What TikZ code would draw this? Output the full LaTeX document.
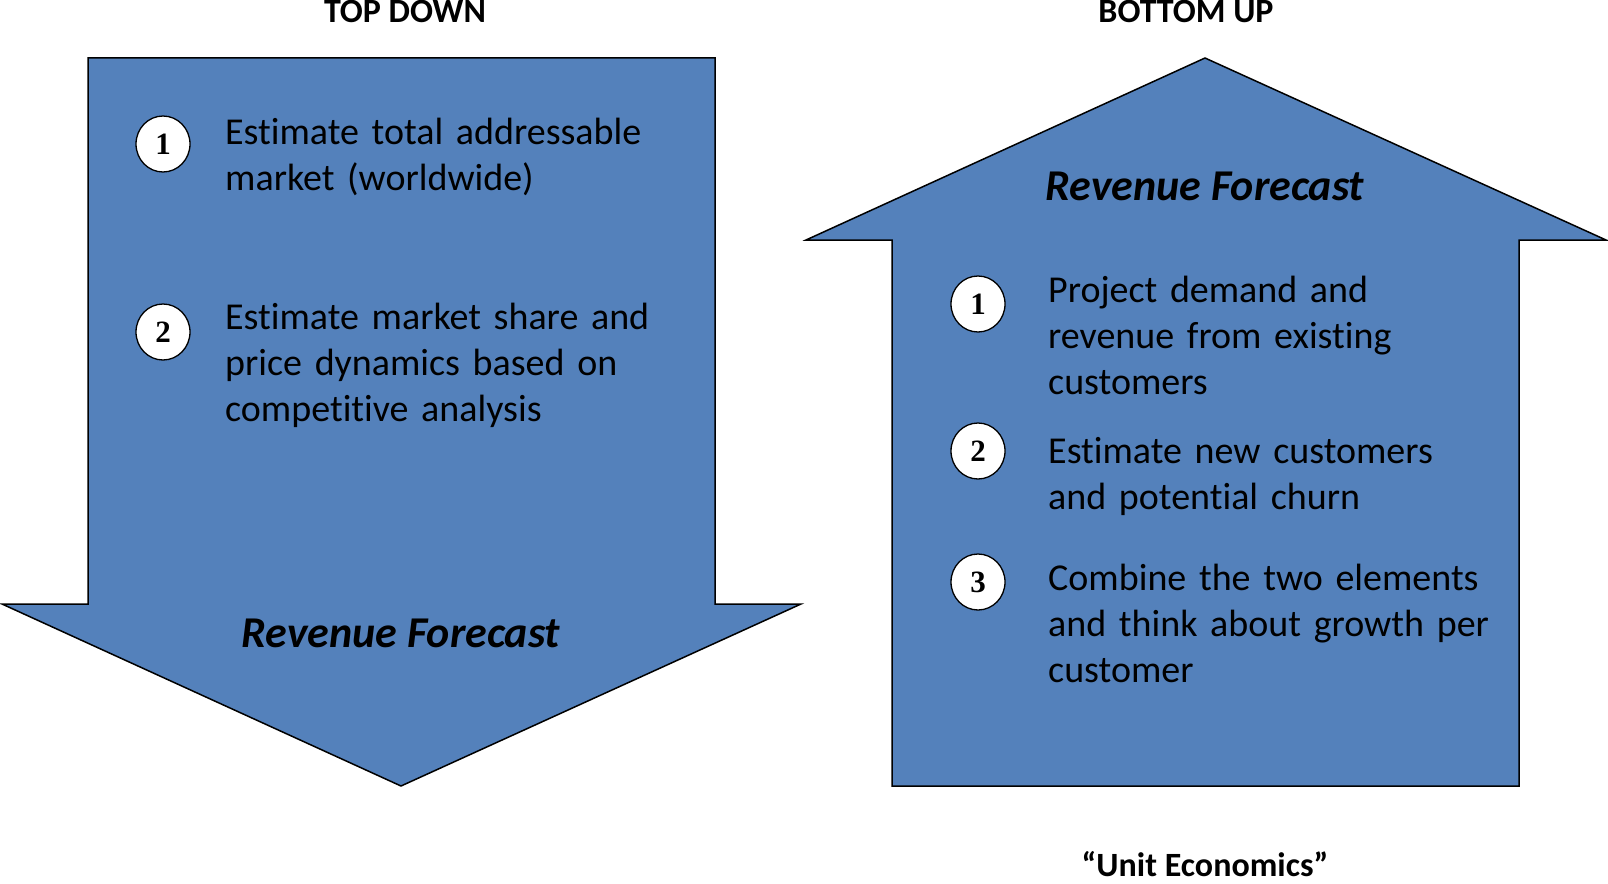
\documentclass[tikz,border=0pt]{standalone}
\usepackage{fontspec}
\setmainfont[Ligatures=NoCommon]{Carlito}
\newfontfamily\numfont{Liberation Serif}
\usetikzlibrary{shapes.geometric}
\definecolor{arrowblue}{RGB}{84,129,187}

\begin{document}
\begin{tikzpicture}[x=1pt, y=-1pt]

\tikzstyle{ARROW} = [draw=black, line width=1.5pt, fill=arrowblue, line join=miter]
\tikzstyle{NUM} = [ellipse, draw=black, line width=1.3pt, fill=white, minimum width=54pt, minimum height=56pt, inner sep=0pt, font=\numfont\bfseries\fontsize{31}{31}\selectfont]
\tikzstyle{TASK} = [anchor=base west, inner sep=0pt, text width=480pt, align=left, font=\fontsize{38}{46}\selectfont]
\tikzstyle{HEAD} = [anchor=base, inner sep=0pt, font=\bfseries\fontsize{34}{34}\selectfont]
\tikzstyle{RESULT} = [anchor=base, inner sep=0pt, font=\bfseries\itshape\fontsize{44}{44}\selectfont]

\useasboundingbox (0,0) rectangle (1608,883);

% top down arrow
\draw[ARROW] (88,58) -- (715,58) -- (715,604) -- (801,604) -- (401,786) -- (2,604) -- (88,604) -- cycle;
% bottom up arrow
\draw[ARROW] (1205,58) -- (1606,240) -- (1519,240) -- (1519,786) -- (892,786) -- (892,240) -- (806,240) -- cycle;

\node (topdown) [HEAD] at (405,23) {TOP DOWN};
\node (bottomup) [HEAD] at (1186,23) {BOTTOM UP};
\node (unitecon) [HEAD] at (1205,876) {“Unit Economics”};

\node (tdres) [RESULT] at (401,647) {Revenue Forecast};
\node (bures) [RESULT] at (1205,200) {Revenue Forecast};

\node (tdc1) [NUM] at (163,144) {1};
\node (tdc2) [NUM] at (163,332) {2};
\node (td1) [TASK] at (225,144) {Estimate total addressable\\market (worldwide)};
\node (td2) [TASK] at (225,329) {Estimate market share and\\price dynamics based on\\competitive analysis};

\node (buc1) [NUM] at (978,304) {1};
\node (buc2) [NUM] at (978,451) {2};
\node (buc3) [NUM] at (978,582) {3};
\node (bu1) [TASK] at (1048,302) {Project demand and\\revenue from existing\\customers};
\node (bu2) [TASK] at (1048,463) {Estimate new customers\\and potential churn};
\node (bu3) [TASK] at (1048,590) {Combine the two elements\\and think about growth per\\customer};

\end{tikzpicture}
\end{document}
